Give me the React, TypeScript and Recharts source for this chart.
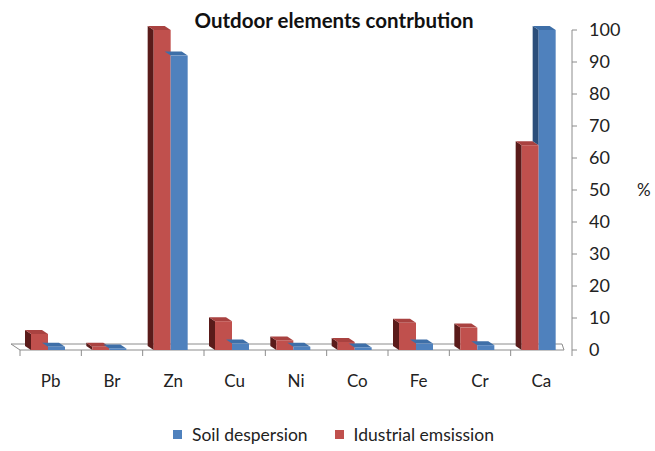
import { Bar, BarChart, Legend, ReferenceLine, XAxis, YAxis } from "recharts";

const categories = ["Pb", "Br", "Zn", "Cu", "Ni", "Co", "Fe", "Cr", "Ca"];
const soilDespersion = [1, 0.5, 92, 2, 1, 0.8, 2, 1.5, 100];
const industrialEmission = [5, 1, 100, 9, 3, 2.5, 8.5, 7, 64];
const yTicks = [0, 10, 20, 30, 40, 50, 60, 70, 80, 90, 100];

const SOIL = { name: "Soil despersion", front: "#4F81BD", side: "#2B4E7A", top: "#3E6FA8" };
const IND = { name: "Idustrial emsission", front: "#C0504D", side: "#5A1B1A", top: "#A94240" };

const W = 655;
const H = 451;
const M = { top: 30, right: 8, left: 20, bottom: 0 };
const Y_W = 75;
const PLOT_W = W - M.left - M.right - Y_W;
const BAND = PLOT_W / categories.length;
const DX = 6;
const DY = 4;
const SHIFT = -3;
const FONT = "Lato, 'Open Sans', sans-serif";
const AXIS = "#8c8c8c";

const data = categories.map((c, i) => ({
  name: c,
  soil: soilDespersion[i],
  ind: industrialEmission[i],
}));

function Box3D(p: any, col: typeof SOIL, isSoil: boolean) {
  const { y, width: w, height: h, payload } = p;
  if (h == null || isNaN(h)) return <g />;
  const x = p.x + SHIFT;
  const bottom = y + h;
  let side = null;
  if (!isSoil) {
    side = `${x},${y} ${x - DX},${y - DY} ${x - DX},${bottom - DY} ${x},${bottom}`;
  } else if (payload && payload.ind < payload.soil) {
    const redTop = bottom - (h * payload.ind) / payload.soil;
    side = `${x},${y} ${x - DX},${y - DY} ${x - DX},${redTop - DY} ${x},${redTop}`;
  }
  const top = `${x},${y} ${x + w},${y} ${x + w - DX},${y - DY} ${x - DX},${y - DY}`;
  return (
    <g>
      {side && <polygon points={side} fill={col.side} />}
      <polygon points={top} fill={col.top} />
      <rect x={x} y={y} width={w} height={h} fill={col.front} />
    </g>
  );
}

function CatTick(p: any) {
  const { x, y, payload, index } = p;
  const last = index === categories.length - 1;
  return (
    <g>
      <line x1={x - BAND / 2} y1={y} x2={x - BAND / 2} y2={y + 6} stroke={AXIS} />
      {last && <line x1={x + BAND / 2} y1={y} x2={x + BAND / 2} y2={y + 6} stroke={AXIS} />}
      <text x={x} y={y + 30} textAnchor="middle" dominantBaseline="central" fontSize={17} fontFamily={FONT} fill="#222">
        {payload.value}
      </text>
    </g>
  );
}

function Floor(p: any) {
  const { x1, y1, x2 } = p;
  const pts = `${x1 - 8},${y1} ${x2},${y1} ${x2 - 9},${y1 - 6} ${x1 - 10},${y1 - 6}`;
  return <polygon points={pts} fill="none" stroke={AXIS} strokeWidth={1} />;
}

function LegendBox() {
  const items = [SOIL, IND];
  return (
    <div
      style={{
        display: "flex",
        justifyContent: "center",
        gap: 27,
        fontFamily: FONT,
        fontSize: 17.5,
        color: "#222",
        position: "relative",
        top: -6,
      }}
    >
      {items.map((it) => (
        <div key={it.name} style={{ display: "flex", alignItems: "center" }}>
          <span style={{ width: 9, height: 9, background: it.front, marginRight: 10, display: "inline-block" }} />
          {it.name}
        </div>
      ))}
    </div>
  );
}

export default function App() {
  return (
    <div style={{ position: "absolute", left: 0, top: 0, width: W, height: H, background: "#fff" }}>
      <div
        style={{
          position: "absolute",
          left: 0,
          top: 8,
          width: 668,
          textAlign: "center",
          fontFamily: FONT,
          fontWeight: 700,
          fontSize: 20.5,
          color: "#111",
          zIndex: 2,
        }}
      >
        Outdoor elements contrbution
      </div>
      <BarChart width={W} height={H} data={data} margin={M} barGap={0} barSize={17}>
        <XAxis
          dataKey="name"
          height={80}
          axisLine={false}
          tickLine={false}
          tickSize={0}
          tickMargin={0}
          tick={CatTick}
          interval={0}
        />
        <YAxis
          orientation="right"
          width={Y_W}
          domain={[0, 100]}
          ticks={yTicks}
          interval={0}
          axisLine={{ stroke: AXIS }}
          tickLine={{ stroke: AXIS }}
          tickSize={5}
          tickMargin={12}
          tick={{ fontSize: 18, fontFamily: FONT, fill: "#222", textAnchor: "start" }}
          label={{ value: "%", position: "right", offset: -10, fontSize: 17, fontFamily: FONT, fill: "#222" }}
        />
        <ReferenceLine y={0} shape={Floor} zIndex={-100} />
        <Bar dataKey="ind" name={IND.name} isAnimationActive={false} shape={(p: any) => Box3D(p, IND, false)} />
        <Bar dataKey="soil" name={SOIL.name} isAnimationActive={false} shape={(p: any) => Box3D(p, SOIL, true)} />
        <Legend verticalAlign="bottom" content={LegendBox} />
      </BarChart>
    </div>
  );
}
